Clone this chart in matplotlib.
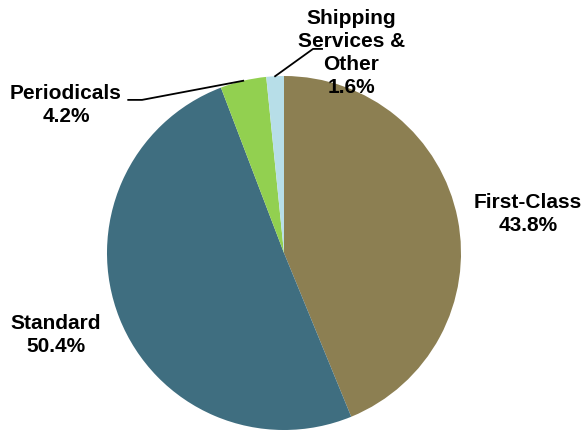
import numpy as np
import matplotlib.pyplot as plt

labels = ["First-Class", "Standard", "Periodicals", "Shipping\nServices &\nOther"]
shares = [43.8, 50.4, 4.2, 1.6]
colors = ["#8C7F52", "#3F6E80", "#92D050", "#B7DEE8"]

# label text centres (data units, pie radius = 1)
label_pos = [(1.379, 0.22), (-1.288, -0.463), (-1.232, 0.836), (0.379, 1.13)]

fig = plt.figure(figsize=(5.86, 4.32), dpi=100)
ax = fig.add_axes([107/586, 2/432, 354/586, 354/432])

wedges, _ = ax.pie(shares, colors=colors, startangle=90, counterclock=False,
                   radius=1, center=(0, 0), frame=True)
ax.set_xlim(-1, 1)
ax.set_ylim(-1, 1)
ax.axis('off')

for i, (lab, val) in enumerate(zip(labels, shares)):
    x, y = label_pos[i]
    ax.text(x, y, f"{lab}\n{val}%", ha='center', va='center', fontsize=15,
            fontweight='bold', family='Liberation Sans', linespacing=1.26,
            clip_on=False)

# leader lines for the two small slices
for i, (kx, ky) in [(2, (-0.802, 0.865)), (3, (0.164, 1.153))]:
    w = wedges[i]
    a = np.deg2rad((w.theta1 + w.theta2) / 2)
    ex, ey = np.cos(a), np.sin(a)
    if i == 2:
        pts = [(ex, ey), (kx, ky), (-0.88, ky)]
    else:
        pts = [(ex, ey), (kx, ky), (0.215, ky)]
    xs, ys = zip(*pts)
    ax.plot(xs, ys, color='black', lw=1.3, clip_on=False)

fig.savefig('out.png', dpi=100)
